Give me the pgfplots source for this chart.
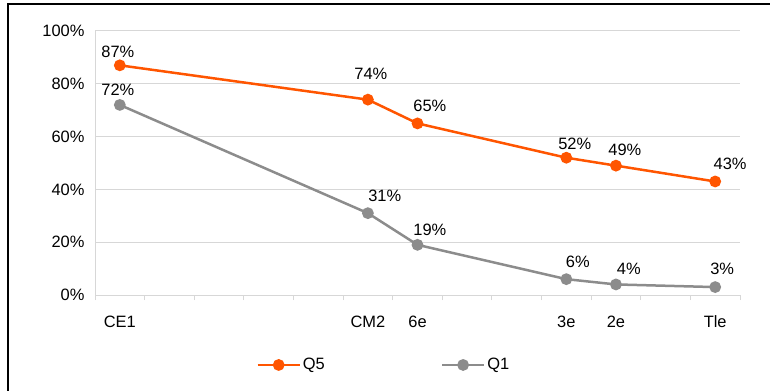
\documentclass[border=0pt]{standalone}
\usepackage{fontspec}
\setmainfont{Liberation Sans}
\usepackage{pgfplots}
\pgfplotsset{compat=1.18}
\definecolor{qorange}{RGB}{255,85,0}
\definecolor{qgray}{RGB}{140,140,140}
\definecolor{gridc}{RGB}{215,215,215}
\begin{document}
\begin{tikzpicture}[x=1bp,y=1bp]
\useasboundingbox (0,0) rectangle (770,390);
\draw[black,line width=1.2bp] (8,-2) -- (8,386) -- (772,386);
\begin{axis}[
  at={(95bp,95bp)}, anchor=south west,
  scale only axis, width=645bp, height=264bp,
  xmin=-0.5, xmax=12.5, ymin=0, ymax=100,
  axis x line*=bottom, axis y line*=left,
  axis line style={gridc, line width=1bp, -},
  xtick={-0.5,0.5,...,12.5}, xticklabels={},
  major tick length=5bp,
  x tick style={gridc, line width=1bp},
  tick align=outside,
  extra x ticks={0,5,6,9,10,12},
  extra x tick labels={CE1,CM2,6e,3e,2e,Tle},
  extra x tick style={tick style={draw=none}, xticklabel style={yshift=-12bp}},
  ytick={0,20,...,100},
  y tick style={draw=none},
  yticklabel={\pgfmathprintnumber{\tick}\%},
  yticklabel style={xshift=-2bp},
  ymajorgrids, grid style={gridc, line width=1bp},
  /pgf/number format/assume math mode=true,
  tick label style={font=\fontsize{16.5}{19}\selectfont},
  legend style={at={(0.25,-0.265)}, anchor=west, draw=none, inner sep=0pt,
    font=\fontsize{16.5}{19}\selectfont, legend columns=2,
    /tikz/every even column/.append style={column sep=114bp},
    legend cell align=left},
  legend image code/.code={\draw[mark repeat=2,mark phase=2] plot coordinates {(0bp,0bp) (21bp,0bp) (42bp,0bp)};},
  clip=false,
]
\addplot[qorange, line width=2.5bp, mark=*, mark size=4.6bp] coordinates {
 (0,87) (5,74) (6,65) (9,52) (10,49) (12,43)};
\addlegendentry{Q5}
\addplot[qgray, line width=2.5bp, mark=*, mark size=4.6bp] coordinates {
 (0,72) (5,31) (6,19) (9,6) (10,4) (12,3)};
\addlegendentry{Q1}
\begin{scope}[every node/.style={font=\fontsize{16.5}{19}\selectfont, inner sep=0pt}]
\node at (axis cs:-0.04,92.2) {87\%};
\node at (axis cs:5.06,83.7) {74\%};
\node at (axis cs:6.25,71.7) {65\%};
\node at (axis cs:9.17,57.2) {52\%};
\node at (axis cs:10.18,55.0) {49\%};
\node at (axis cs:12.3,49.6) {43\%};
\node at (axis cs:-0.04,77.7) {72\%};
\node at (axis cs:5.34,37.5) {31\%};
\node at (axis cs:6.25,24.6) {19\%};
\node at (axis cs:9.23,12.5) {6\%};
\node at (axis cs:10.26,9.8) {4\%};
\node at (axis cs:12.14,9.8) {3\%};
\end{scope}
\end{axis}
\end{tikzpicture}
\end{document}
